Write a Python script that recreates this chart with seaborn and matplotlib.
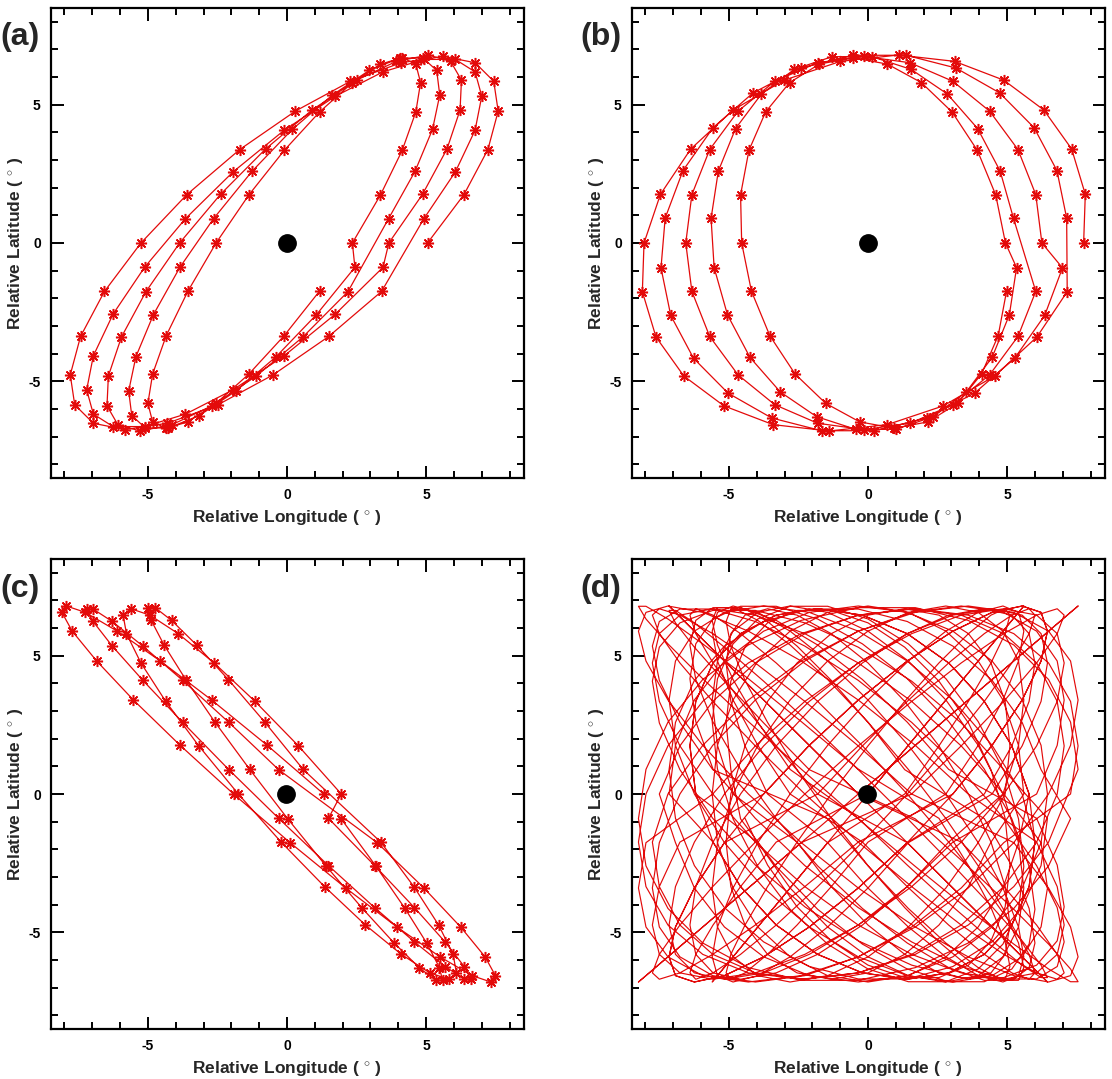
import matplotlib
matplotlib.use("Agg")
import matplotlib.pyplot as plt
import seaborn as sns
from matplotlib.ticker import FixedLocator, MultipleLocator

# ---------------- data (relative longitude / latitude, degrees) ----------------
a_lon = [
    5.05, 6.36, 7.22, 7.59, 7.43, 6.76, 5.62, 4.10, 2.28, 0.30, -1.70, -3.60, -5.25, -6.56, -7.42, -7.79, -7.63, -6.96, -5.82, -4.30, -2.48, -0.50, 1.50, 3.40,
    4.92, 6.05, 6.76, 7.00, 6.76, 6.05, 4.92, 3.45, 1.74, -0.10, -1.94, -3.65, -5.12, -6.25, -6.96, -7.20, -6.96, -6.25, -5.12, -3.65, -1.94, -0.10, 1.74, 3.45,
    3.66, 4.87, 5.75, 6.22, 6.27, 5.88, 5.08, 3.93, 2.50, 0.90, -0.77, -2.39, -3.86, -5.07, -5.95, -6.42, -6.47, -6.08, -5.28, -4.13, -2.70, -1.10, 0.57, 2.19,
    3.65, 4.60, 5.23, 5.49, 5.38, 4.89, 4.06, 2.95, 1.63, 0.19, -1.26, -2.64, -3.85, -4.80, -5.43, -5.69, -5.58, -5.09, -4.26, -3.15, -1.83, -0.39, 1.06, 2.44,
    2.35, 3.36, 4.14, 4.63, 4.80, 4.63, 4.14, 3.36, 2.35, 1.17, -0.10, -1.37, -2.55, -3.56, -4.34, -4.83, -5.00, -4.83, -4.34, -3.56, -2.55, -1.37, -0.10, 1.17,
]
a_lat = [
    0.00, 1.75, 3.38, 4.77, 5.85, 6.52, 6.75, 6.52, 5.85, 4.77, 3.38, 1.75, 0.00, -1.75, -3.38, -4.77, -5.85, -6.52, -6.75, -6.52, -5.85, -4.77, -3.38, -1.75,
    0.88, 2.57, 4.08, 5.31, 6.19, 6.64, 6.64, 6.19, 5.31, 4.08, 2.57, 0.88, -0.88, -2.57, -4.08, -5.31, -6.19, -6.64, -6.64, -6.19, -5.31, -4.08, -2.57, -0.88,
    0.00, 1.76, 3.40, 4.81, 5.89, 6.57, 6.80, 6.57, 5.89, 4.81, 3.40, 1.76, 0.00, -1.76, -3.40, -4.81, -5.89, -6.57, -6.80, -6.57, -5.89, -4.81, -3.40, -1.76,
    0.88, 2.59, 4.11, 5.35, 6.24, 6.69, 6.69, 6.24, 5.35, 4.11, 2.59, 0.88, -0.88, -2.59, -4.11, -5.35, -6.24, -6.69, -6.69, -6.24, -5.35, -4.11, -2.59, -0.88,
    0.00, 1.74, 3.35, 4.74, 5.80, 6.47, 6.70, 6.47, 5.80, 4.74, 3.35, 1.74, 0.00, -1.74, -3.35, -4.74, -5.80, -6.47, -6.70, -6.47, -5.80, -4.74, -3.35, -1.74,
]

b_lon = [
    7.75, 7.81, 7.32, 6.32, 4.88, 3.11, 1.10, -0.99, -3.01, -4.85, -6.37, -7.46, -8.05, -8.11, -7.62, -6.62, -5.18, -3.41, -1.40, 0.69, 2.71, 4.55, 6.07, 7.16,
    7.14, 6.79, 5.97, 4.73, 3.16, 1.37, -0.53, -2.41, -4.13, -5.57, -6.65, -7.29, -7.44, -7.09, -6.27, -5.03, -3.46, -1.67, 0.23, 2.11, 3.83, 5.27, 6.35, 6.99,
    6.25, 6.03, 5.39, 4.37, 3.05, 1.51, -0.15, -1.81, -3.35, -4.67, -5.69, -6.33, -6.55, -6.33, -5.69, -4.67, -3.35, -1.81, -0.15, 1.51, 3.05, 4.37, 5.39, 6.03,
    5.23, 4.75, 3.94, 2.85, 1.55, 0.14, -1.29, -2.65, -3.83, -4.76, -5.38, -5.64, -5.53, -5.05, -4.24, -3.15, -1.85, -0.44, 0.99, 2.35, 3.53, 4.46, 5.08, 5.34,
    4.94, 4.59, 3.93, 3.02, 1.92, 0.70, -0.55, -1.75, -2.82, -3.68, -4.28, -4.58, -4.54, -4.19, -3.53, -2.62, -1.52, -0.30, 0.95, 2.15, 3.22, 4.08, 4.68, 4.98,
]
b_lat = [
    0.00, 1.76, 3.40, 4.81, 5.89, 6.57, 6.80, 6.57, 5.89, 4.81, 3.40, 1.76, 0.00, -1.76, -3.40, -4.81, -5.89, -6.57, -6.80, -6.57, -5.89, -4.81, -3.40, -1.76,
    0.90, 2.62, 4.17, 5.43, 6.33, 6.79, 6.79, 6.33, 5.43, 4.17, 2.62, 0.90, -0.90, -2.62, -4.17, -5.43, -6.33, -6.79, -6.79, -6.33, -5.43, -4.17, -2.62, -0.90,
    0.00, 1.75, 3.38, 4.77, 5.85, 6.52, 6.75, 6.52, 5.85, 4.77, 3.38, 1.75, 0.00, -1.75, -3.38, -4.77, -5.85, -6.52, -6.75, -6.52, -5.85, -4.77, -3.38, -1.75,
    0.89, 2.60, 4.14, 5.39, 6.28, 6.74, 6.74, 6.28, 5.39, 4.14, 2.60, 0.89, -0.89, -2.60, -4.14, -5.39, -6.28, -6.74, -6.74, -6.28, -5.39, -4.14, -2.60, -0.89,
    0.00, 1.74, 3.35, 4.74, 5.80, 6.47, 6.70, 6.47, 5.80, 4.74, 3.35, 1.74, 0.00, -1.74, -3.35, -4.74, -5.80, -6.47, -6.70, -6.47, -5.80, -4.74, -3.35, -1.74,
]

c_lon = [
    1.32, -0.71, -2.71, -4.55, -6.10, -7.25, -7.93, -8.09, -7.72, -6.84, -5.52, -3.84, -1.92, 0.11, 2.11, 3.95, 5.50, 6.65, 7.33, 7.49, 7.12, 6.24, 4.92, 3.24,
    -0.30, -2.09, -3.75, -5.18, -6.28, -6.97, -7.20, -6.97, -6.28, -5.18, -3.75, -2.09, -0.30, 1.49, 3.15, 4.58, 5.68, 6.37, 6.60, 6.37, 5.68, 4.58, 3.15, 1.49,
    1.95, 0.41, -1.15, -2.62, -3.91, -4.93, -5.61, -5.89, -5.77, -5.25, -4.36, -3.17, -1.75, -0.21, 1.35, 2.82, 4.11, 5.13, 5.81, 6.09, 5.97, 5.45, 4.56, 3.37,
    0.58, -0.80, -2.11, -3.25, -4.15, -4.74, -4.99, -4.88, -4.42, -3.64, -2.59, -1.34, 0.02, 1.40, 2.71, 3.85, 4.75, 5.34, 5.59, 5.48, 5.02, 4.24, 3.19, 1.94,
]
c_lat = [
    0.00, 1.76, 3.40, 4.81, 5.89, 6.57, 6.80, 6.57, 5.89, 4.81, 3.40, 1.76, 0.00, -1.76, -3.40, -4.81, -5.89, -6.57, -6.80, -6.57, -5.89, -4.81, -3.40, -1.76,
    0.88, 2.59, 4.11, 5.35, 6.24, 6.69, 6.69, 6.24, 5.35, 4.11, 2.59, 0.88, -0.88, -2.59, -4.11, -5.35, -6.24, -6.69, -6.69, -6.24, -5.35, -4.11, -2.59, -0.88,
    0.00, 1.74, 3.35, 4.74, 5.80, 6.47, 6.70, 6.47, 5.80, 4.74, 3.35, 1.74, 0.00, -1.74, -3.35, -4.74, -5.80, -6.47, -6.70, -6.47, -5.80, -4.74, -3.35, -1.74,
    0.89, 2.60, 4.14, 5.39, 6.28, 6.74, 6.74, 6.28, 5.39, 4.14, 2.60, 0.89, -0.89, -2.60, -4.14, -5.39, -6.28, -6.74, -6.74, -6.28, -5.39, -4.14, -2.60, -0.89,
]

d_lon = [
    -0.35, 1.70, 3.60, 5.24, 6.49, 7.28, 7.55, 7.28, 6.49, 5.24, 3.60, 1.70, -0.35, -2.40, -4.30, -5.94, -7.19, -7.98, -8.25, -7.98, -7.19, -5.94, -4.30, -2.40,
    1.57, 3.35, 4.88, 6.06, 6.80, 7.05, 6.80, 6.06, 4.88, 3.35, 1.57, -0.35, -2.27, -4.05, -5.58, -6.76, -7.50, -7.75, -7.50, -6.76, -5.58, -4.05, -2.27, -0.35,
    3.05, 4.46, 5.54, 6.22, 6.45, 6.22, 5.54, 4.46, 3.05, 1.41, -0.35, -2.11, -3.75, -5.16, -6.24, -6.92, -7.15, -6.92, -6.24, -5.16, -3.75, -2.11, -0.35, 1.41,
    4.18, 5.17, 5.79, 6.00, 5.79, 5.17, 4.18, 2.90, 1.41, -0.20, -1.81, -3.30, -4.58, -5.57, -6.19, -6.40, -6.19, -5.57, -4.58, -3.30, -1.81, -0.20, 1.41, 2.90,
    4.85, 5.41, 5.60, 5.41, 4.85, 3.96, 2.80, 1.45, 0.00, -1.45, -2.80, -3.96, -4.85, -5.41, -5.60, -5.41, -4.85, -3.96, -2.80, -1.45, 0.00, 1.45, 2.80, 3.96,
    4.93, 5.10, 4.93, 4.42, 3.61, 2.55, 1.32, 0.00, -1.32, -2.55, -3.61, -4.42, -4.93, -5.10, -4.93, -4.42, -3.61, -2.55, -1.32, 0.00, 1.32, 2.55, 3.61, 4.42,
    5.60, 5.41, 4.85, 3.96, 2.80, 1.45, 0.00, -1.45, -2.80, -3.96, -4.85, -5.41, -5.60, -5.41, -4.85, -3.96, -2.80, -1.45, 0.00, 1.45, 2.80, 3.96, 4.85, 5.41,
    5.79, 5.17, 4.18, 2.90, 1.41, -0.20, -1.81, -3.30, -4.58, -5.57, -6.19, -6.40, -6.19, -5.57, -4.58, -3.30, -1.81, -0.20, 1.41, 2.90, 4.18, 5.17, 5.79, 6.00,
    5.54, 4.46, 3.05, 1.41, -0.35, -2.11, -3.75, -5.16, -6.24, -6.92, -7.15, -6.92, -6.24, -5.16, -3.75, -2.11, -0.35, 1.41, 3.05, 4.46, 5.54, 6.22, 6.45, 6.22,
    4.88, 3.35, 1.57, -0.35, -2.27, -4.05, -5.58, -6.76, -7.50, -7.75, -7.50, -6.76, -5.58, -4.05, -2.27, -0.35, 1.57, 3.35, 4.88, 6.06, 6.80, 7.05, 6.80, 6.06,
    3.60, 1.70, -0.35, -2.40, -4.30, -5.94, -7.19, -7.98, -8.25, -7.98, -7.19, -5.94, -4.30, -2.40, -0.35, 1.70, 3.60, 5.24, 6.49, 7.28, 7.55, 7.28, 6.49, 5.24,
    1.57, -0.35, -2.27, -4.05, -5.58, -6.76, -7.50, -7.75, -7.50, -6.76, -5.58, -4.05, -2.27, -0.35, 1.57, 3.35, 4.88, 6.06, 6.80, 7.05, 6.80, 6.06, 4.88, 3.35,
    -0.35, -2.11, -3.75, -5.16, -6.24, -6.92, -7.15, -6.92, -6.24, -5.16, -3.75, -2.11, -0.35, 1.41, 3.05, 4.46, 5.54, 6.22, 6.45, 6.22, 5.54, 4.46, 3.05, 1.41,
    -1.81, -3.30, -4.58, -5.57, -6.19, -6.40, -6.19, -5.57, -4.58, -3.30, -1.81, -0.20, 1.41, 2.90, 4.18, 5.17, 5.79, 6.00, 5.79, 5.17, 4.18, 2.90, 1.41, -0.20,
    -2.80, -3.96, -4.85, -5.41, -5.60, -5.41, -4.85, -3.96, -2.80, -1.45, 0.00, 1.45, 2.80, 3.96, 4.85, 5.41, 5.60, 5.41, 4.85, 3.96, 2.80, 1.45, 0.00, -1.45,
    -3.61, -4.42, -4.93, -5.10, -4.93, -4.42, -3.61, -2.55, -1.32, 0.00, 1.32, 2.55, 3.61, 4.42, 4.93, 5.10, 4.93, 4.42, 3.61, 2.55, 1.32, 0.00, -1.32, -2.55,
    -4.85, -5.41, -5.60, -5.41, -4.85, -3.96, -2.80, -1.45, 0.00, 1.45, 2.80, 3.96, 4.85, 5.41, 5.60, 5.41, 4.85, 3.96, 2.80, 1.45, 0.00, -1.45, -2.80, -3.96,
    -6.19, -6.40, -6.19, -5.57, -4.58, -3.30, -1.81, -0.20, 1.41, 2.90, 4.18, 5.17, 5.79, 6.00, 5.79, 5.17, 4.18, 2.90, 1.41, -0.20, -1.81, -3.30, -4.58, -5.57,
    -7.15, -6.92, -6.24, -5.16, -3.75, -2.11, -0.35, 1.41, 3.05, 4.46, 5.54, 6.22, 6.45, 6.22, 5.54, 4.46, 3.05, 1.41, -0.35, -2.11, -3.75, -5.16, -6.24, -6.92,
    -7.50, -6.76, -5.58, -4.05, -2.27, -0.35, 1.57, 3.35, 4.88, 6.06, 6.80, 7.05, 6.80, 6.06, 4.88, 3.35, 1.57, -0.35, -2.27, -4.05, -5.58, -6.76, -7.50, -7.75,
    -7.19, -5.94, -4.30, -2.40, -0.35, 1.70, 3.60, 5.24, 6.49, 7.28, 7.55, 7.28, 6.49, 5.24, 3.60, 1.70, -0.35, -2.40, -4.30, -5.94, -7.19, -7.98, -8.25, -7.98,
    -5.58, -4.05, -2.27, -0.35, 1.57, 3.35, 4.88, 6.06, 6.80, 7.05, 6.80, 6.06, 4.88, 3.35, 1.57, -0.35, -2.27, -4.05, -5.58, -6.76, -7.50, -7.75, -7.50, -6.76,
    -3.75, -2.11, -0.35, 1.41, 3.05, 4.46, 5.54, 6.22, 6.45, 6.22, 5.54, 4.46, 3.05, 1.41, -0.35, -2.11, -3.75, -5.16, -6.24, -6.92, -7.15, -6.92, -6.24, -5.16,
    -1.81, -0.20, 1.41, 2.90, 4.18, 5.17, 5.79, 6.00, 5.79, 5.17, 4.18, 2.90, 1.41, -0.20, -1.81, -3.30, -4.58, -5.57, -6.19, -6.40, -6.19, -5.57, -4.58, -3.30,
    0.00, 1.45, 2.80, 3.96, 4.85, 5.41, 5.60, 5.41, 4.85, 3.96, 2.80, 1.45, 0.00, -1.45, -2.80, -3.96, -4.85, -5.41, -5.60, -5.41, -4.85, -3.96, -2.80, -1.45,
    1.32, 2.55, 3.61, 4.42, 4.93, 5.10, 4.93, 4.42, 3.61, 2.55, 1.32, 0.00, -1.32, -2.55, -3.61, -4.42, -4.93, -5.10, -4.93, -4.42, -3.61, -2.55, -1.32, 0.00,
    2.80, 3.96, 4.85, 5.41, 5.60, 5.41, 4.85, 3.96, 2.80, 1.45, 0.00, -1.45, -2.80, -3.96, -4.85, -5.41, -5.60, -5.41, -4.85, -3.96, -2.80, -1.45, 0.00, 1.45,
    4.46, 5.54, 6.22, 6.45, 6.22, 5.54, 4.46, 3.05, 1.41, -0.35, -2.11, -3.75, -5.16, -6.24, -6.92, -7.15, -6.92, -6.24, -5.16, -3.75, -2.11, -0.35, 1.41, 3.05,
    6.06, 6.80, 7.05, 6.80, 6.06, 4.88, 3.35, 1.57, -0.35, -2.27, -4.05, -5.58, -6.76, -7.50, -7.75, -7.50, -6.76, -5.58, -4.05, -2.27, -0.35, 1.57, 3.35, 4.88,
    7.28, 7.55, 7.28, 6.49, 5.24, 3.60, 1.70, -0.35, -2.40, -4.30, -5.94, -7.19, -7.98, -8.25, -7.98, -7.19, -5.94, -4.30, -2.40, -0.35, 1.70, 3.60, 5.24, 6.49,
    7.55, 7.28, 6.49, 5.24, 3.60, 1.70, -0.35, -2.40, -4.30, -5.94, -7.19, -7.98, -8.25, -7.98, -7.19, -5.94, -4.30, -2.40, -0.35, 1.70, 3.60, 5.24, 6.49, 7.28,
    6.22, 5.54, 4.46, 3.05, 1.41, -0.35, -2.11, -3.75, -5.16, -6.24, -6.92, -7.15, -6.92, -6.24, -5.16, -3.75, -2.11, -0.35, 1.41, 3.05, 4.46, 5.54, 6.22, 6.45,
    4.85, 3.96, 2.80, 1.45, 0.00, -1.45, -2.80, -3.96, -4.85, -5.41, -5.60, -5.41, -4.85, -3.96, -2.80, -1.45, 0.00, 1.45, 2.80, 3.96, 4.85, 5.41, 5.60, 5.41,
    4.88, 3.35, 1.57, -0.35, -2.27, -4.05, -5.58, -6.76, -7.50, -7.75, -7.50, -6.76, -5.58, -4.05, -2.27, -0.35, 1.57, 3.35, 4.88, 6.06, 6.80, 7.05, 6.80, 6.06,
    2.90, 1.41, -0.20, -1.81, -3.30, -4.58, -5.57, -6.19, -6.40, -6.19, -5.57, -4.58, -3.30, -1.81, -0.20, 1.41, 2.90, 4.18, 5.17, 5.79, 6.00, 5.79, 5.17, 4.18,
    1.32, 0.00, -1.32, -2.55, -3.61, -4.42, -4.93, -5.10, -4.93, -4.42, -3.61, -2.55, -1.32, 0.00, 1.32, 2.55, 3.61, 4.42, 4.93, 5.10, 4.93, 4.42, 3.61, 2.55,
    -0.35, -2.40, -4.30, -5.94, -7.19, -7.98, -8.25, -7.98, -7.19, -5.94, -4.30, -2.40, -0.35, 1.70, 3.60, 5.24, 6.49, 7.28, 7.55, 7.28, 6.49, 5.24, 3.60, 1.70,
    -2.11, -3.75, -5.16, -6.24, -6.92, -7.15, -6.92, -6.24, -5.16, -3.75, -2.11, -0.35, 1.41, 3.05, 4.46, 5.54, 6.22, 6.45, 6.22, 5.54, 4.46, 3.05, 1.41, -0.35,
    -2.80, -3.96, -4.85, -5.41, -5.60, -5.41, -4.85, -3.96, -2.80, -1.45, 0.00, 1.45, 2.80, 3.96, 4.85, 5.41, 5.60, 5.41, 4.85, 3.96, 2.80, 1.45, 0.00, -1.45,
    -5.58, -6.76, -7.50, -7.75, -7.50, -6.76, -5.58, -4.05, -2.27, -0.35, 1.57, 3.35, 4.88, 6.06, 6.80, 7.05, 6.80, 6.06, 4.88, 3.35, 1.57, -0.35, -2.27, -4.05,
    -5.57, -6.19, -6.40, -6.19, -5.57, -4.58, -3.30, -1.81, -0.20, 1.41, 2.90, 4.18, 5.17, 5.79, 6.00, 5.79, 5.17, 4.18, 2.90, 1.41, -0.20, -1.81, -3.30, -4.58,
    -4.93, -5.10, -4.93, -4.42, -3.61, -2.55, -1.32, 0.00, 1.32, 2.55, 3.61, 4.42, 4.93, 5.10, 4.93, 4.42, 3.61, 2.55, 1.32, 0.00, -1.32, -2.55, -3.61, -4.42,
]
d_lat = [
    0.00, 1.76, 3.40, 4.81, 5.89, 6.57, 6.80, 6.57, 5.89, 4.81, 3.40, 1.76, 0.00, -1.76, -3.40, -4.81, -5.89, -6.57, -6.80, -6.57, -5.89, -4.81, -3.40, -1.76,
    0.00, 1.74, 3.35, 4.74, 5.80, 6.47, 6.70, 6.47, 5.80, 4.74, 3.35, 1.74, 0.00, -1.74, -3.35, -4.74, -5.80, -6.47, -6.70, -6.47, -5.80, -4.74, -3.35, -1.74,
    0.00, 1.76, 3.40, 4.81, 5.89, 6.57, 6.80, 6.57, 5.89, 4.81, 3.40, 1.76, 0.00, -1.76, -3.40, -4.81, -5.89, -6.57, -6.80, -6.57, -5.89, -4.81, -3.40, -1.76,
    0.00, 1.74, 3.35, 4.74, 5.80, 6.47, 6.70, 6.47, 5.80, 4.74, 3.35, 1.74, 0.00, -1.74, -3.35, -4.74, -5.80, -6.47, -6.70, -6.47, -5.80, -4.74, -3.35, -1.74,
    0.00, 1.76, 3.40, 4.81, 5.89, 6.57, 6.80, 6.57, 5.89, 4.81, 3.40, 1.76, 0.00, -1.76, -3.40, -4.81, -5.89, -6.57, -6.80, -6.57, -5.89, -4.81, -3.40, -1.76,
    0.00, 1.74, 3.35, 4.74, 5.80, 6.47, 6.70, 6.47, 5.80, 4.74, 3.35, 1.74, 0.00, -1.74, -3.35, -4.74, -5.80, -6.47, -6.70, -6.47, -5.80, -4.74, -3.35, -1.74,
    0.00, 1.76, 3.40, 4.81, 5.89, 6.57, 6.80, 6.57, 5.89, 4.81, 3.40, 1.76, 0.00, -1.76, -3.40, -4.81, -5.89, -6.57, -6.80, -6.57, -5.89, -4.81, -3.40, -1.76,
    0.00, 1.74, 3.35, 4.74, 5.80, 6.47, 6.70, 6.47, 5.80, 4.74, 3.35, 1.74, 0.00, -1.74, -3.35, -4.74, -5.80, -6.47, -6.70, -6.47, -5.80, -4.74, -3.35, -1.74,
    0.00, 1.76, 3.40, 4.81, 5.89, 6.57, 6.80, 6.57, 5.89, 4.81, 3.40, 1.76, 0.00, -1.76, -3.40, -4.81, -5.89, -6.57, -6.80, -6.57, -5.89, -4.81, -3.40, -1.76,
    0.00, 1.74, 3.35, 4.74, 5.80, 6.47, 6.70, 6.47, 5.80, 4.74, 3.35, 1.74, 0.00, -1.74, -3.35, -4.74, -5.80, -6.47, -6.70, -6.47, -5.80, -4.74, -3.35, -1.74,
    0.00, 1.76, 3.40, 4.81, 5.89, 6.57, 6.80, 6.57, 5.89, 4.81, 3.40, 1.76, 0.00, -1.76, -3.40, -4.81, -5.89, -6.57, -6.80, -6.57, -5.89, -4.81, -3.40, -1.76,
    0.00, 1.74, 3.35, 4.74, 5.80, 6.47, 6.70, 6.47, 5.80, 4.74, 3.35, 1.74, 0.00, -1.74, -3.35, -4.74, -5.80, -6.47, -6.70, -6.47, -5.80, -4.74, -3.35, -1.74,
    0.00, 1.76, 3.40, 4.81, 5.89, 6.57, 6.80, 6.57, 5.89, 4.81, 3.40, 1.76, 0.00, -1.76, -3.40, -4.81, -5.89, -6.57, -6.80, -6.57, -5.89, -4.81, -3.40, -1.76,
    0.00, 1.74, 3.35, 4.74, 5.80, 6.47, 6.70, 6.47, 5.80, 4.74, 3.35, 1.74, 0.00, -1.74, -3.35, -4.74, -5.80, -6.47, -6.70, -6.47, -5.80, -4.74, -3.35, -1.74,
    0.00, 1.76, 3.40, 4.81, 5.89, 6.57, 6.80, 6.57, 5.89, 4.81, 3.40, 1.76, 0.00, -1.76, -3.40, -4.81, -5.89, -6.57, -6.80, -6.57, -5.89, -4.81, -3.40, -1.76,
    0.00, 1.74, 3.35, 4.74, 5.80, 6.47, 6.70, 6.47, 5.80, 4.74, 3.35, 1.74, 0.00, -1.74, -3.35, -4.74, -5.80, -6.47, -6.70, -6.47, -5.80, -4.74, -3.35, -1.74,
    0.00, 1.76, 3.40, 4.81, 5.89, 6.57, 6.80, 6.57, 5.89, 4.81, 3.40, 1.76, 0.00, -1.76, -3.40, -4.81, -5.89, -6.57, -6.80, -6.57, -5.89, -4.81, -3.40, -1.76,
    0.00, 1.74, 3.35, 4.74, 5.80, 6.47, 6.70, 6.47, 5.80, 4.74, 3.35, 1.74, 0.00, -1.74, -3.35, -4.74, -5.80, -6.47, -6.70, -6.47, -5.80, -4.74, -3.35, -1.74,
    0.00, 1.76, 3.40, 4.81, 5.89, 6.57, 6.80, 6.57, 5.89, 4.81, 3.40, 1.76, 0.00, -1.76, -3.40, -4.81, -5.89, -6.57, -6.80, -6.57, -5.89, -4.81, -3.40, -1.76,
    0.00, 1.74, 3.35, 4.74, 5.80, 6.47, 6.70, 6.47, 5.80, 4.74, 3.35, 1.74, 0.00, -1.74, -3.35, -4.74, -5.80, -6.47, -6.70, -6.47, -5.80, -4.74, -3.35, -1.74,
    0.00, 1.76, 3.40, 4.81, 5.89, 6.57, 6.80, 6.57, 5.89, 4.81, 3.40, 1.76, 0.00, -1.76, -3.40, -4.81, -5.89, -6.57, -6.80, -6.57, -5.89, -4.81, -3.40, -1.76,
    0.00, 1.74, 3.35, 4.74, 5.80, 6.47, 6.70, 6.47, 5.80, 4.74, 3.35, 1.74, 0.00, -1.74, -3.35, -4.74, -5.80, -6.47, -6.70, -6.47, -5.80, -4.74, -3.35, -1.74,
    0.00, 1.76, 3.40, 4.81, 5.89, 6.57, 6.80, 6.57, 5.89, 4.81, 3.40, 1.76, 0.00, -1.76, -3.40, -4.81, -5.89, -6.57, -6.80, -6.57, -5.89, -4.81, -3.40, -1.76,
    0.00, 1.74, 3.35, 4.74, 5.80, 6.47, 6.70, 6.47, 5.80, 4.74, 3.35, 1.74, 0.00, -1.74, -3.35, -4.74, -5.80, -6.47, -6.70, -6.47, -5.80, -4.74, -3.35, -1.74,
    0.00, 1.76, 3.40, 4.81, 5.89, 6.57, 6.80, 6.57, 5.89, 4.81, 3.40, 1.76, 0.00, -1.76, -3.40, -4.81, -5.89, -6.57, -6.80, -6.57, -5.89, -4.81, -3.40, -1.76,
    0.00, 1.74, 3.35, 4.74, 5.80, 6.47, 6.70, 6.47, 5.80, 4.74, 3.35, 1.74, 0.00, -1.74, -3.35, -4.74, -5.80, -6.47, -6.70, -6.47, -5.80, -4.74, -3.35, -1.74,
    0.00, 1.76, 3.40, 4.81, 5.89, 6.57, 6.80, 6.57, 5.89, 4.81, 3.40, 1.76, 0.00, -1.76, -3.40, -4.81, -5.89, -6.57, -6.80, -6.57, -5.89, -4.81, -3.40, -1.76,
    0.00, 1.74, 3.35, 4.74, 5.80, 6.47, 6.70, 6.47, 5.80, 4.74, 3.35, 1.74, 0.00, -1.74, -3.35, -4.74, -5.80, -6.47, -6.70, -6.47, -5.80, -4.74, -3.35, -1.74,
    0.00, 1.76, 3.40, 4.81, 5.89, 6.57, 6.80, 6.57, 5.89, 4.81, 3.40, 1.76, 0.00, -1.76, -3.40, -4.81, -5.89, -6.57, -6.80, -6.57, -5.89, -4.81, -3.40, -1.76,
    0.00, 1.74, 3.35, 4.74, 5.80, 6.47, 6.70, 6.47, 5.80, 4.74, 3.35, 1.74, 0.00, -1.74, -3.35, -4.74, -5.80, -6.47, -6.70, -6.47, -5.80, -4.74, -3.35, -1.74,
    0.89, 2.60, 4.14, 5.39, 6.28, 6.74, 6.74, 6.28, 5.39, 4.14, 2.60, 0.89, -0.89, -2.60, -4.14, -5.39, -6.28, -6.74, -6.74, -6.28, -5.39, -4.14, -2.60, -0.89,
    0.88, 2.59, 4.11, 5.35, 6.24, 6.69, 6.69, 6.24, 5.35, 4.11, 2.59, 0.88, -0.88, -2.59, -4.11, -5.35, -6.24, -6.69, -6.69, -6.24, -5.35, -4.11, -2.59, -0.88,
    0.90, 2.62, 4.17, 5.43, 6.33, 6.79, 6.79, 6.33, 5.43, 4.17, 2.62, 0.90, -0.90, -2.62, -4.17, -5.43, -6.33, -6.79, -6.79, -6.33, -5.43, -4.17, -2.62, -0.90,
    0.88, 2.57, 4.08, 5.31, 6.19, 6.64, 6.64, 6.19, 5.31, 4.08, 2.57, 0.88, -0.88, -2.57, -4.08, -5.31, -6.19, -6.64, -6.64, -6.19, -5.31, -4.08, -2.57, -0.88,
    0.89, 2.60, 4.14, 5.39, 6.28, 6.74, 6.74, 6.28, 5.39, 4.14, 2.60, 0.89, -0.89, -2.60, -4.14, -5.39, -6.28, -6.74, -6.74, -6.28, -5.39, -4.14, -2.60, -0.89,
    0.88, 2.59, 4.11, 5.35, 6.24, 6.69, 6.69, 6.24, 5.35, 4.11, 2.59, 0.88, -0.88, -2.59, -4.11, -5.35, -6.24, -6.69, -6.69, -6.24, -5.35, -4.11, -2.59, -0.88,
    0.90, 2.62, 4.17, 5.43, 6.33, 6.79, 6.79, 6.33, 5.43, 4.17, 2.62, 0.90, -0.90, -2.62, -4.17, -5.43, -6.33, -6.79, -6.79, -6.33, -5.43, -4.17, -2.62, -0.90,
    0.88, 2.57, 4.08, 5.31, 6.19, 6.64, 6.64, 6.19, 5.31, 4.08, 2.57, 0.88, -0.88, -2.57, -4.08, -5.31, -6.19, -6.64, -6.64, -6.19, -5.31, -4.08, -2.57, -0.88,
    0.89, 2.60, 4.14, 5.39, 6.28, 6.74, 6.74, 6.28, 5.39, 4.14, 2.60, 0.89, -0.89, -2.60, -4.14, -5.39, -6.28, -6.74, -6.74, -6.28, -5.39, -4.14, -2.60, -0.89,
    0.88, 2.59, 4.11, 5.35, 6.24, 6.69, 6.69, 6.24, 5.35, 4.11, 2.59, 0.88, -0.88, -2.59, -4.11, -5.35, -6.24, -6.69, -6.69, -6.24, -5.35, -4.11, -2.59, -0.88,
    0.90, 2.62, 4.17, 5.43, 6.33, 6.79, 6.79, 6.33, 5.43, 4.17, 2.62, 0.90, -0.90, -2.62, -4.17, -5.43, -6.33, -6.79, -6.79, -6.33, -5.43, -4.17, -2.62, -0.90,
    0.88, 2.57, 4.08, 5.31, 6.19, 6.64, 6.64, 6.19, 5.31, 4.08, 2.57, 0.88, -0.88, -2.57, -4.08, -5.31, -6.19, -6.64, -6.64, -6.19, -5.31, -4.08, -2.57, -0.88,
]

panel_labels = ["(a)", "(b)", "(c)", "(d)"]
center_lon = [0.0, 0.0, -0.05, -0.05]
center_lat = [0.0, 0.0, 0.0, 0.0]
major_ticks = [-5, 0, 5]
tick_labels = ["-5", "0", "5"]
x_label = "Relative Longitude ( $^{\\circ}$ )"
y_label = "Relative Latitude ( $^{\\circ}$ )"

# ---------------- style ----------------
sns.set_style("ticks")
plt.rcParams["font.family"] = ["Liberation Sans", "DejaVu Sans"]
plt.rcParams["font.weight"] = "bold"
plt.rcParams["axes.unicode_minus"] = False
plt.rcParams["mathtext.fontset"] = "custom"
plt.rcParams["mathtext.rm"] = "Liberation Sans:bold"
plt.rcParams["mathtext.bf"] = "Liberation Sans:bold"

RED = "#e30a0a"
W, H = 1112, 1079
fig = plt.figure(figsize=(W / 100, H / 100), dpi=100)

ax_w, ax_h = 473 / W, 470 / H
positions = [
    (50.5 / W, (H - 478) / H),
    (631.5 / W, (H - 478) / H),
    (50.5 / W, (H - 1029) / H),
    (631.5 / W, (H - 1029) / H),
]
label_pos = [(0.0, 1 - 37 / H), (580 / W, 1 - 37 / H), (0.0, 1 - 589 / H), (580 / W, 1 - 589 / H)]

series = [(a_lon, a_lat, True), (b_lon, b_lat, True), (c_lon, c_lat, True), (d_lon, d_lat, False)]

for i, ((lon, lat, with_markers), (px, py)) in enumerate(zip(series, positions)):
    ax = fig.add_axes([px, py, ax_w, ax_h])
    if with_markers:
        sns.lineplot(x=lon, y=lat, sort=False, estimator=None, ax=ax, color=RED,
                     linewidth=0.9, marker=(8, 2, 0), markersize=8,
                     markeredgewidth=1.1, markeredgecolor=RED)
    else:
        sns.lineplot(x=lon, y=lat, sort=False, estimator=None, ax=ax, color=RED,
                     linewidth=0.85)
    ax.plot([center_lon[i]], [center_lat[i]], "o", color="black", markersize=12.5, zorder=5)

    ax.set_xlim(-8.5, 8.5)
    ax.set_ylim(-8.5, 8.5)
    ax.xaxis.set_major_locator(FixedLocator(major_ticks))
    ax.yaxis.set_major_locator(FixedLocator(major_ticks))
    ax.set_xticklabels(tick_labels)
    ax.set_yticklabels(tick_labels)
    ax.xaxis.set_minor_locator(MultipleLocator(1))
    ax.yaxis.set_minor_locator(MultipleLocator(1))
    ax.tick_params(which="both", direction="in", top=True, right=True,
                   width=1.4, labelsize=10, colors="black")
    ax.tick_params(which="major", length=9, pad=7)
    ax.tick_params(which="minor", length=5)
    for sp in ax.spines.values():
        sp.set_linewidth(1.6)
        sp.set_color("black")
    ax.set_xlabel(x_label, fontsize=12.5, fontweight="bold", labelpad=5)
    ax.set_ylabel(y_label, fontsize=12.5, fontweight="bold", labelpad=2)
    fig.text(label_pos[i][0], label_pos[i][1], panel_labels[i], fontsize=23,
             fontweight="bold", ha="left", va="center")

fig.savefig("out.png", dpi=100)
